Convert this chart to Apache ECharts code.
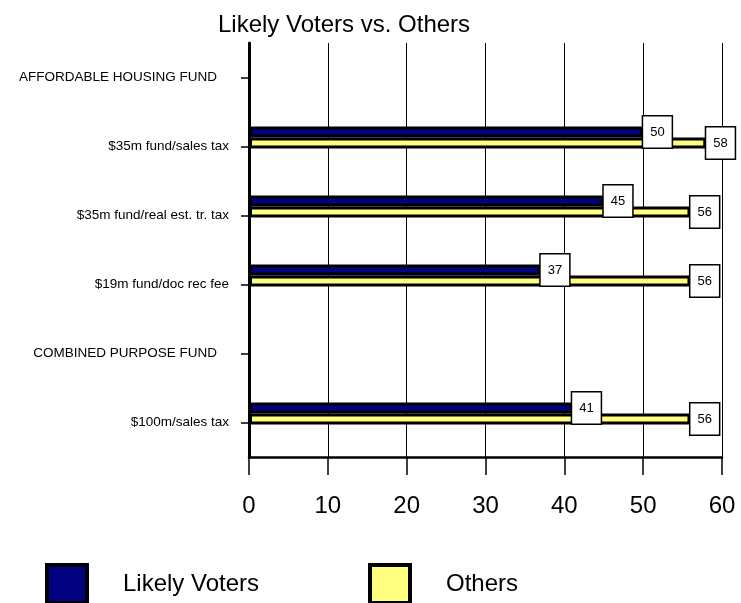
<!DOCTYPE html>
<html>
<head>
<meta charset="utf-8">
<script src="https://cdn.jsdelivr.net/npm/echarts@6/dist/echarts.min.js"></script>
<style>html,body{margin:0;padding:0;background:#fff;}#c{width:741px;height:603px;}</style>
</head>
<body>
<div id="c"></div>
<script>
const categories = ['AFFORDABLE HOUSING FUND', '$35m fund/sales tax', '$35m fund/real est. tr. tax', '$19m fund/doc rec fee', 'COMBINED PURPOSE FUND', '$100m/sales tax'];
const likelyVoters = ['-', 50, 45, 37, '-', 41];
const others = ['-', 58, 56, 56, '-', 56];
const xTicks = [0, 10, 20, 30, 40, 50, 60];
const headers = ['AFFORDABLE HOUSING FUND', 'COMBINED PURPOSE FUND'];

const FONT = '"Liberation Sans", Arial, sans-serif';
const chart = echarts.init(document.getElementById('c'));

const labelStyle = {
  show: true, position: 'right', distance: 0,
  backgroundColor: '#fff', borderColor: '#000', borderWidth: 1.5,
  padding: [8, 7, 8, 7], fontSize: 13, lineHeight: 15, color: '#000', fontFamily: FONT
};

chart.setOption({
  backgroundColor: '#fff',
  animation: false,
  title: {
    text: 'Likely Voters vs. Others', left: 213, top: 8,
    textStyle: { fontSize: 24, fontWeight: 'normal', color: '#000', fontFamily: FONT }
  },
  legend: [
    { data: ['Likely Voters'], left: 40, top: 558, itemWidth: 40, itemHeight: 38, icon: 'rect',
      itemStyle: { borderColor: '#000', borderWidth: 4 },
      textStyle: { fontSize: 24, color: '#000', fontFamily: FONT, padding: [0, 0, 0, 31] } },
    { data: ['Others'], left: 363, top: 558, itemWidth: 40, itemHeight: 38, icon: 'rect',
      itemStyle: { borderColor: '#000', borderWidth: 4 },
      textStyle: { fontSize: 24, color: '#000', fontFamily: FONT, padding: [0, 0, 0, 31] } }
  ],
  grid: [
    { left: 249, right: 19, top: 43, height: 414 },
    { left: 249, right: 19, top: 34, height: 414 }
  ],
  xAxis: [
    { gridIndex: 0, type: 'value', min: xTicks[0], max: xTicks[xTicks.length - 1], interval: 10,
      axisLine: { show: true, lineStyle: { color: '#000', width: 2.5 } },
      axisTick: { show: true, length: 18, lineStyle: { color: '#000', width: 1.5 } },
      splitLine: { show: true, lineStyle: { color: '#000', width: 1 } },
      axisLabel: { fontSize: 24, color: '#000', fontFamily: FONT, margin: 37 } },
    { gridIndex: 1, type: 'value', min: xTicks[0], max: xTicks[xTicks.length - 1], show: false,
      splitLine: { show: false } }
  ],
  yAxis: [
    { gridIndex: 0, type: 'category', data: categories, inverse: true,
      axisLine: { show: true, lineStyle: { color: '#000', width: 3 } },
      axisTick: { show: true, alignWithLabel: true, length: 8, lineStyle: { color: '#000', width: 1.5 } },
      splitLine: { show: false },
      axisLabel: {
        margin: 20, color: '#000', fontSize: 13.5, fontFamily: FONT,
        formatter: v => headers.includes(v) ? '{h|' + v + '}' : v,
        rich: { h: { fontSize: 13.5, fontFamily: FONT, color: '#000', padding: [0, 12, 0, 0] } }
      } },
    { gridIndex: 1, type: 'category', data: categories, inverse: true, show: false }
  ],
  series: [
    { name: 'Likely Voters', type: 'bar', xAxisIndex: 1, yAxisIndex: 1, data: likelyVoters,
      barWidth: 11, barGap: '0%',
      itemStyle: { color: '#000080', borderColor: '#000', borderWidth: 3 },
      label: labelStyle },
    { name: 'Others', type: 'bar', xAxisIndex: 1, yAxisIndex: 1, data: others,
      barWidth: 11, barGap: '0%',
      itemStyle: { color: '#FFFF80', borderColor: '#000', borderWidth: 3 },
      label: labelStyle }
  ]
});
</script>
</body>
</html>
